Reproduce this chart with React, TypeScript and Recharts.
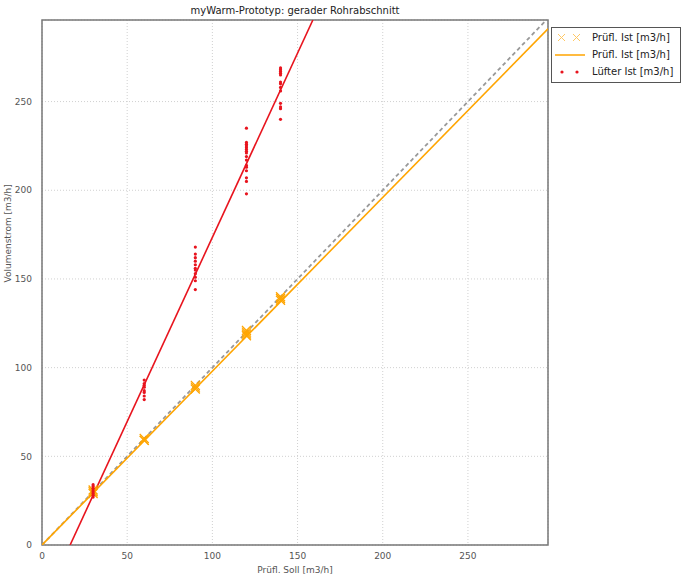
import {
  ComposedChart,
  Scatter,
  Line,
  XAxis,
  YAxis,
  CartesianGrid,
  ReferenceArea,
} from "recharts"

/* ---------------------------------
   Data
---------------------------------- */
const xTicks = [0, 50, 100, 150, 200, 250]
const yTicks = [0, 50, 100, 150, 200, 250]

// Prüfl. Ist (orange crosses)
const pruefSoll = [30, 30, 30, 60, 60, 60, 90, 90, 90, 120, 120, 120, 120, 140, 140, 140]
const pruefIst = [29, 30, 31, 59, 60, 59, 89, 90, 88, 118, 119, 120, 121, 138, 139, 140]

// Lüfter Ist (red dots)
const luefterSoll = [
  30, 30, 30, 30, 30, 30, 30, 30,
  60, 60, 60, 60, 60, 60, 60, 60,
  90, 90, 90, 90, 90, 90, 90, 90, 90, 90, 90,
  120, 120, 120, 120, 120, 120, 120, 120, 120, 120, 120, 120, 120, 120, 120, 120,
  140, 140, 140, 140, 140, 140, 140, 140, 140, 140, 140, 140, 140,
]
const luefterIst = [
  27, 28, 29, 30, 31, 32, 33, 34,
  82, 84, 86, 87, 89, 90, 91, 93,
  144, 149, 151, 153, 155, 156, 158, 160, 162, 164, 168,
  198, 205, 207, 211, 213, 214, 217, 219, 221, 222, 223, 224, 225, 226, 227, 235,
  240, 246, 247, 249, 256, 258, 260, 261, 265, 266, 267, 268, 269,
]

// fitted lines
const luefterFitX = [16.5, 159]
const luefterFitY = [0, 296]
const pruefFitX = [0, 297]
const pruefFitY = [0, 291]
const idealX = [0, 297]
const idealY = [0, 297]

const zip = (xs: number[], ys: number[]) => xs.map((x, i) => ({ x, y: ys[i] }))

const pruefPoints = zip(pruefSoll, pruefIst)
const luefterPoints = zip(luefterSoll, luefterIst)
const luefterFit = zip(luefterFitX, luefterFitY)
const pruefFit = zip(pruefFitX, pruefFitY)
const ideal = zip(idealX, idealY)

const ORANGE = "#ffa500"
const RED = "#e8141e"
const FONT = "DejaVu Sans, sans-serif"

/* ---------------------------------
   Marker shapes
---------------------------------- */
function CrossShape(props: { cx?: number; cy?: number }) {
  const { cx = 0, cy = 0 } = props
  const s = 4.5
  return (
    <path
      d={`M${cx - s},${cy - s}L${cx + s},${cy + s}M${cx - s},${cy + s}L${cx + s},${cy - s}`}
      stroke={ORANGE}
      strokeWidth={1.3}
      fill="none"
    />
  )
}

function DotShape(props: { cx?: number; cy?: number }) {
  const { cx = 0, cy = 0 } = props
  return <circle cx={cx} cy={cy} r={1.6} fill={RED} />
}

/* ---------------------------------
   Legend
---------------------------------- */
function LegendBox() {
  const row = { display: "flex", alignItems: "center", height: 17 }
  const sym = { width: 36, height: 17, marginRight: 4 }
  return (
    <div
      style={{
        position: "absolute",
        left: 551,
        top: 27,
        border: "1px solid #555",
        background: "#fff",
        padding: "1px 0 2px 0",
        fontFamily: FONT,
        fontSize: 10,
        color: "#222",
        width: 128,
      }}
    >
      <div style={row}>
        <svg style={sym}>
          <path d="M6,5L13,12M6,12L13,5M21,5L28,12M21,12L28,5" stroke={ORANGE} strokeWidth={1} opacity={0.6} />
        </svg>
        <span>Prüfl. Ist [m3/h]</span>
      </div>
      <div style={row}>
        <svg style={sym}>
          <line x1={3} y1={9} x2={33} y2={9} stroke={ORANGE} strokeWidth={1.5} />
        </svg>
        <span>Prüfl. Ist [m3/h]</span>
      </div>
      <div style={row}>
        <svg style={sym}>
          <circle cx={10} cy={9} r={1.6} fill={RED} />
          <circle cx={25} cy={9} r={1.6} fill={RED} />
        </svg>
        <span>Lüfter Ist [m3/h]</span>
      </div>
    </div>
  )
}

/* ---------------------------------
   Chart
---------------------------------- */
export default function App() {
  const tick = { fontSize: 9, fill: "#555", fontFamily: FONT }
  return (
    <div style={{ position: "absolute", left: 0, top: 0, width: 681, height: 574, background: "#fff" }}>
      <div
        style={{
          position: "absolute",
          left: 42,
          width: 506,
          top: 5,
          textAlign: "center",
          fontFamily: FONT,
          fontSize: 10,
          color: "#222",
        }}
      >
        myWarm-Prototyp: gerader Rohrabschnitt
      </div>
      <ComposedChart
        width={681}
        height={574}
        margin={{ top: 20, right: 133, bottom: 0, left: 0 }}
        style={{ fontFamily: FONT }}
      >
        <CartesianGrid stroke="#d0d0d0" strokeDasharray="1 2" />
        <XAxis
          type="number"
          dataKey="x"
          domain={[0, 297]}
          ticks={xTicks}
          allowDataOverflow
          height={29}
          tick={tick}
          tickLine={false}
          axisLine={false}
          tickMargin={2}
          label={{ value: "Prüfl. Soll [m3/h]", position: "insideBottom", offset: 1, fontSize: 9, fill: "#555" }}
        />
        <YAxis
          type="number"
          dataKey="y"
          domain={[0, 296]}
          ticks={yTicks}
          allowDataOverflow
          width={42}
          tick={tick}
          tickLine={false}
          axisLine={false}
          tickMargin={4}
          label={{ value: "Volumenstrom [m3/h]", angle: -90, position: "insideLeft", offset: 8, fontSize: 9, fill: "#555" }}
        />
        <ReferenceArea x1={0} x2={297} y1={0} y2={296} fill="none" stroke="#777" strokeWidth={1.5} ifOverflow="visible" />
        <Line
          data={ideal}
          dataKey="y"
          stroke="#999"
          strokeWidth={1.8}
          strokeDasharray="4 3"
          dot={false}
          isAnimationActive={false}
        />
        <Line
          data={pruefFit}
          dataKey="y"
          stroke={ORANGE}
          strokeWidth={1.6}
          dot={false}
          isAnimationActive={false}
        />
        <Line
          data={luefterFit}
          dataKey="y"
          stroke={RED}
          strokeWidth={1.6}
          dot={false}
          isAnimationActive={false}
        />
        <Scatter data={pruefPoints} shape={<CrossShape />} isAnimationActive={false} />
        <Scatter data={luefterPoints} shape={<DotShape />} isAnimationActive={false} />
      </ComposedChart>
      <LegendBox />
    </div>
  )
}
